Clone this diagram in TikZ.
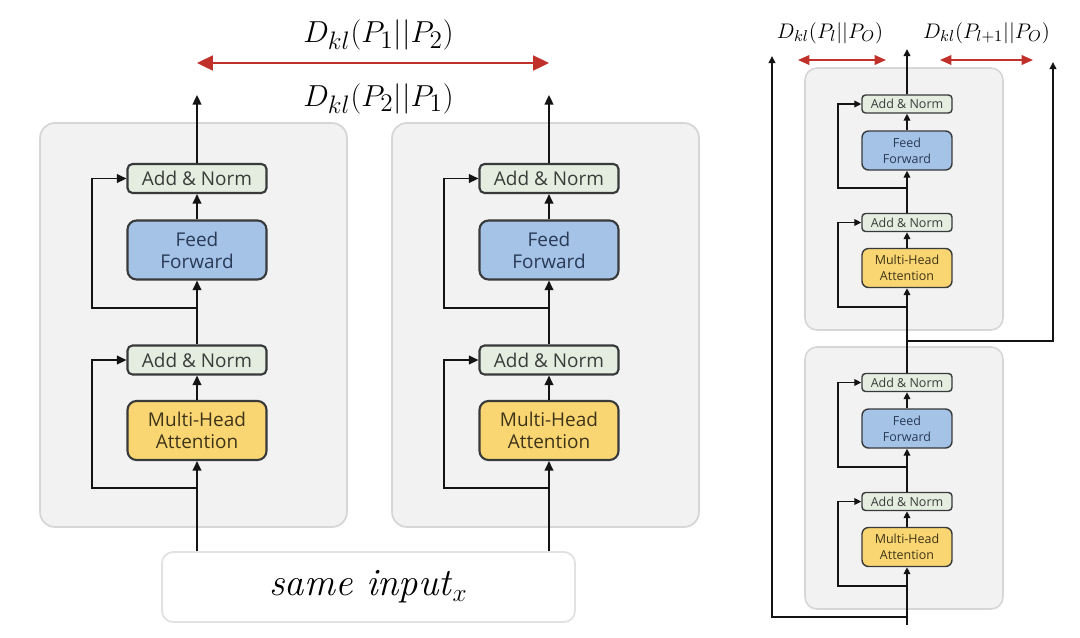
\documentclass[tikz,border=0pt]{standalone}
\usepackage{fontspec}
\setsansfont{Open Sans}
\usetikzlibrary{arrows.meta}
\definecolor{bgfill}{RGB}{242,242,243}
\definecolor{bgline}{RGB}{214,214,217}
\definecolor{anfill}{RGB}{229,237,224}
\definecolor{fffill}{RGB}{165,195,230}
\definecolor{mhafill}{RGB}{249,214,114}
\definecolor{boxline}{RGB}{55,57,58}
\definecolor{antext}{RGB}{58,60,58}
\definecolor{fftext}{RGB}{40,58,87}
\definecolor{mhatext}{RGB}{62,52,25}
\definecolor{wirec}{RGB}{20,20,20}
\definecolor{klred}{RGB}{192,49,43}
\definecolor{inline}{RGB}{225,225,228}
\tikzset{
  bigbg/.style={draw=bgline, fill=bgfill, rounded corners=0.3cm, line width=1pt, inner sep=0pt},
  smallbg/.style={draw=bgline, fill=bgfill, rounded corners=0.24cm, line width=0.9pt, inner sep=0pt},
  bigbox/.style={draw=boxline, line width=1.2pt, inner sep=0pt, align=center, minimum width=2.78cm,
    font=\sffamily\fontsize{10.8}{12.6}\selectfont},
  bigan/.style={bigbox, fill=anfill, text=antext, rounded corners=0.1cm, minimum height=0.58cm},
  bigff/.style={bigbox, fill=fffill, text=fftext, rounded corners=0.18cm, minimum height=1.18cm},
  bigmha/.style={bigbox, fill=mhafill, text=mhatext, rounded corners=0.18cm, minimum height=1.18cm},
  smallbox/.style={draw=boxline, line width=0.8pt, inner sep=0pt, align=center, minimum width=1.8cm,
    font=\sffamily\fontsize{7.1}{9}\selectfont},
  smallan/.style={smallbox, fill=anfill, text=antext, rounded corners=0.07cm, minimum height=0.36cm},
  smallff/.style={smallbox, fill=fffill, text=fftext, rounded corners=0.13cm, minimum height=0.78cm},
  smallmha/.style={smallbox, fill=mhafill, text=mhatext, rounded corners=0.13cm, minimum height=0.78cm},
  bigwire/.style={draw=wirec, line width=1.1pt},
  bigarrow/.style={bigwire, -{Triangle[length=5.5pt,width=5pt]}},
  smallwire/.style={draw=wirec, line width=0.8pt},
  smallarrow/.style={smallwire, -{Triangle[length=4pt,width=3.8pt]}},
  bigred/.style={draw=klred, line width=1.1pt, {Triangle[length=9pt,width=8.5pt]}-{Triangle[length=9pt,width=8.5pt]}},
  smallred/.style={draw=klred, line width=0.9pt, {Triangle[length=6.5pt,width=5.5pt]}-{Triangle[length=6.5pt,width=5.5pt]}},
  biglabel/.style={inner sep=0pt, font=\fontsize{19}{22}\selectfont},
  smalllabel/.style={inner sep=0pt, font=\fontsize{12.3}{14}\selectfont},
}
\begin{document}
\begin{tikzpicture}[x=0.02cm, y=-0.02cm]
\useasboundingbox[fill=white] (0,0) rectangle (1080,637);

% ---------------- left: two parallel encoders ----------------
\node[draw=inline, fill=white, line width=1pt, rounded corners=0.22cm,
      minimum width=8.26cm, minimum height=1.4cm, inner sep=0pt] (inp) at (368.5,587)
      {\fontsize{22}{24}\selectfont\textit{same input}$_{x}$};

\foreach \i/\cx in {1/197, 2/549} {
  \node[bigbg, minimum width=6.14cm, minimum height=8.08cm] (blk\i) at ({\cx-3.5},325) {};
  \node[bigmha] (mha\i) at (\cx,430.5) {Multi-Head\\Attention};
  \node[bigan] (anA\i) at (\cx,360) {Add \& Norm};
  \node[bigff] (ff\i) at (\cx,250) {Feed\\Forward};
  \node[bigan] (anB\i) at (\cx,178.5) {Add \& Norm};
  \coordinate (br1\i) at (\cx,488);
  \coordinate (br2\i) at (\cx,308);
  \coordinate (out\i) at (\cx,95);
  \draw[bigarrow] (inp.north -| mha\i.south) -- (mha\i.south);
  \draw[bigarrow] (br1\i) -- ++(-105,0) |- (anA\i.west);
  \draw[bigarrow] (mha\i.north) -- (anA\i.south);
  \draw[bigarrow] (anA\i.north) -- (ff\i.south);
  \draw[bigarrow] (br2\i) -- ++(-105,0) |- (anB\i.west);
  \draw[bigarrow] (ff\i.north) -- (anB\i.south);
  \draw[bigarrow] (anB\i.north) -- (out\i);
}

\coordinate (kla) at (197,63);
\coordinate (klb) at (549,63);
\draw[bigred] (kla) -- (klb);
\node[biglabel] (lab1) at (378.5,35) {$D_{kl}(P_1||P_2)$};
\node[biglabel] (lab2) at (378.5,98.5) {$D_{kl}(P_2||P_1)$};

% ---------------- right: stacked layers ----------------
\node[smallbg, minimum width=3.96cm, minimum height=5.24cm] (blkT) at (904,199) {};
\node[smallbg, minimum width=3.96cm, minimum height=5.24cm] (blkB) at (904,478) {};

% bottom layer
\node[smallmha] (mhaB) at (907,547) {Multi-Head\\Attention};
\node[smallan] (anB1) at (907,501.5) {Add \& Norm};
\node[smallff] (ffB) at (907,428.5) {Feed\\Forward};
\node[smallan] (anB2) at (907,382.5) {Add \& Norm};
% top layer
\node[smallmha] (mhaT) at (907,268) {Multi-Head\\Attention};
\node[smallan] (anT1) at (907,222.5) {Add \& Norm};
\node[smallff] (ffT) at (907,150.5) {Feed\\Forward};
\node[smallan] (anT2) at (907,104) {Add \& Norm};

\coordinate (rin) at (907,625);
\coordinate (rb0) at (907,617);
\coordinate (lout) at (772,56);
\coordinate (rbB1) at (907,586);
\coordinate (rbB2) at (907,467);
\coordinate (rmid) at (907,341);
\coordinate (rout) at (1053,62);
\coordinate (rbT1) at (907,307);
\coordinate (rbT2) at (907,188);
\coordinate (mout) at (907,49);

\draw[smallarrow] (rin) -- (mhaB.south);
\draw[smallarrow] (rb0) -| (lout);
\draw[smallarrow] (rbB1) -- ++(-69,0) |- (anB1.west);
\draw[smallarrow] (mhaB.north) -- (anB1.south);
\draw[smallarrow] (anB1.north) -- (ffB.south);
\draw[smallarrow] (rbB2) -- ++(-69,0) |- (anB2.west);
\draw[smallarrow] (ffB.north) -- (anB2.south);
\draw[smallarrow] (anB2.north) -- (mhaT.south);
\draw[smallarrow] (rmid) -| (rout);
\draw[smallarrow] (rbT1) -- ++(-69,0) |- (anT1.west);
\draw[smallarrow] (mhaT.north) -- (anT1.south);
\draw[smallarrow] (anT1.north) -- (ffT.south);
\draw[smallarrow] (rbT2) -- ++(-69,0) |- (anT2.west);
\draw[smallarrow] (ffT.north) -- (anT2.south);
\draw[smallarrow] (anT2.north) -- (mout);

\coordinate (kr1a) at (798,60);
\coordinate (kr1b) at (886,60);
\coordinate (kr2a) at (940,60);
\coordinate (kr2b) at (1033,60);
\draw[smallred] (kr1a) -- (kr1b);
\draw[smallred] (kr2a) -- (kr2b);
\node[smalllabel] (labr1) at (830,33) {$D_{kl}(P_l||P_O)$};
\node[smalllabel] (labr2) at (986.5,33) {$D_{kl}(P_{l+1}||P_O)$};
\end{tikzpicture}
\end{document}
